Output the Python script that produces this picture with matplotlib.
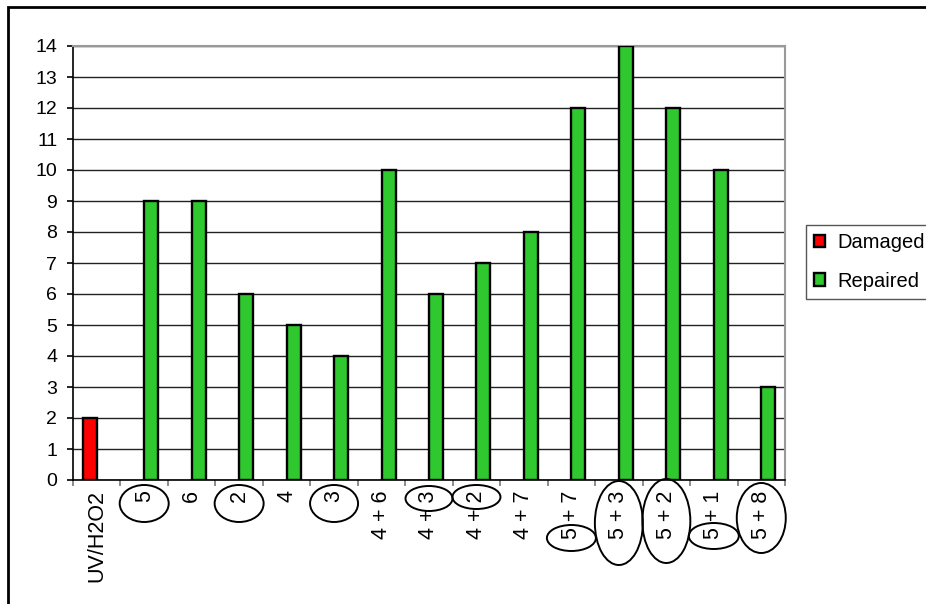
import numpy as np
import matplotlib
matplotlib.use("Agg")
from matplotlib import pyplot as plt
from matplotlib.patches import Ellipse, Rectangle
from matplotlib.transforms import IdentityTransform

plt.rcParams['font.family'] = ['Liberation Sans', 'DejaVu Sans']

categories = ['UV/H2O2', '5', '6', '2', '4', '3', '4 + 6', '4 + 3', '4 + 2',
              '4 + 7', '5 + 7', '5 + 3', '5 + 2', '5 + 1', '5 + 8']
damaged = [2, np.nan, np.nan, np.nan, np.nan, np.nan, np.nan, np.nan,
           np.nan, np.nan, np.nan, np.nan, np.nan, np.nan, np.nan]
repaired = [np.nan, 9, 9, 6, 5, 4, 10, 6, 7, 8, 12, 14, 12, 10, 3]

# circled labels: (category index, centre below axis px, width px, height px)
circles = [(1, 23.5, 49, 37), (3, 23.5, 49, 37), (5, 23.5, 48, 37),
           (7, 18.5, 47, 25), (8, 17, 48, 24), (10, 58, 49, 26),
           (11, 43, 48, 84), (12, 41, 48, 84), (13, 56, 50, 26),
           (14, 38, 49, 70)]

W, H = 926, 604
fig = plt.figure(figsize=(W / 100, H / 100), dpi=100)
ax = fig.add_axes([73 / W, (H - 480) / H, 712 / W, 434 / H])

x = np.arange(len(categories))
bw = 0.295
ax.bar(x - bw / 2, damaged, bw, color='#FF0000', edgecolor='black', linewidth=1.7,
       label='Damaged', zorder=3)
ax.bar(x + bw / 2, repaired, bw, color='#2FC82F', edgecolor='black', linewidth=1.7,
       label='Repaired', zorder=3)

ax.set_xlim(-0.5, len(categories) - 0.5)
ax.set_ylim(0, 14)
ax.set_yticks(range(0, 15))
ax.yaxis.grid(True, color='#222222', linewidth=1.0, zorder=0)
ax.set_axisbelow(True)

ax.set_xticks(x)
ax.set_xticklabels(categories, rotation=90, va='top', ha='center', fontsize=15.5)
ax.set_xticks(np.arange(-0.5, len(categories)), minor=True)
ax.tick_params(axis='x', which='major', length=0, pad=7.5)
ax.tick_params(axis='x', which='minor', length=4.5, width=1.2, color='#777777')
ax.tick_params(axis='y', length=4.3, width=1.2, pad=7, labelsize=14)

for s in ['left', 'bottom']:
    ax.spines[s].set_color('black')
    ax.spines[s].set_linewidth(1.2)
for s in ['top', 'right']:
    ax.spines[s].set_color('#999999')
    ax.spines[s].set_linewidth(1.5)

# ellipses around some labels, in pixel coords
y0 = ax.transData.transform((0, 0))[1]
for i, dy, ew, eh in circles:
    cx = ax.transData.transform((i, 0))[0]
    fig.add_artist(Ellipse((cx, y0 - dy), ew, eh, fill=False, edgecolor='black',
                           linewidth=1.4, transform=IdentityTransform()))

# outer chart border
fig.add_artist(Rectangle((8, -20), W + 40, H - 6 + 20 - 1, fill=False,
                         edgecolor='black', linewidth=2, transform=IdentityTransform()))

leg = fig.legend(loc='center left', bbox_to_anchor=(806 / W, 1 - 262 / H),
                 fontsize=14.5, handlelength=0.55, handleheight=0.55,
                 handletextpad=0.6, labelspacing=0.95, borderpad=0.4,
                 fancybox=False, framealpha=1, edgecolor='#555555', borderaxespad=0)
leg.get_frame().set_linewidth(1.0)

fig.savefig('out.png', dpi=100)
